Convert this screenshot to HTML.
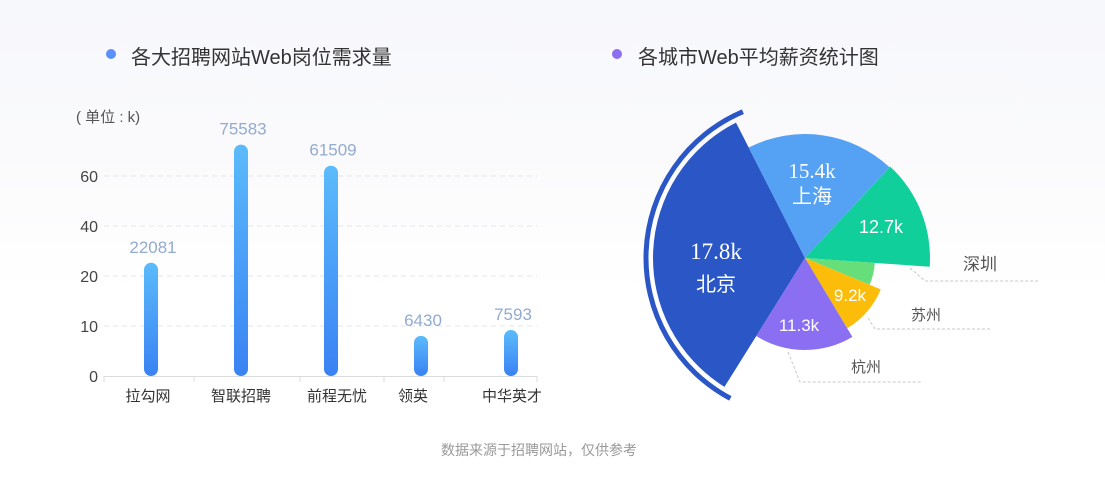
<!DOCTYPE html>
<html><head><meta charset="utf-8">
<style>
html,body{margin:0;padding:0}
body{width:1105px;height:486px;overflow:hidden;background:linear-gradient(#f7f8fc 0px,#fafafc 150px,#ffffff 290px);font-family:"Liberation Sans","Noto Sans CJK SC",sans-serif;position:relative}
.t{position:absolute;font-size:20px;color:#333;top:41px}
.dot{position:absolute;width:10px;height:10px;border-radius:50%;top:49px}
</style></head><body>
<div class="dot" style="left:106px;background:#5b8ff9"></div>
<div class="t" style="left:131px">各大招聘网站Web岗位需求量</div>
<div class="dot" style="left:612px;background:#8b6ff0"></div>
<div class="t" style="left:638px">各城市Web平均薪资统计图</div>
<svg id="chart" width="1105" height="486" style="position:absolute;left:0;top:0">
<defs><linearGradient id="bg" x1="0" y1="0" x2="0" y2="1"><stop offset="0" stop-color="#5bbbfb"/><stop offset="1" stop-color="#3a82f4"/></linearGradient></defs>
<text x="76" y="122" font-size="15" fill="#555">( 单位 : k)</text>
<g id="bars"></g><g id="pie"></g>
<text x="539" y="455" font-size="14" fill="#999" text-anchor="middle">数据来源于招聘网站，仅供参考</text>
</svg>
<script>
const categories=["拉勾网","智联招聘","前程无忧","领英","中华英才"];
const demand=[22081,75583,61509,6430,7593];
const yTicks=[0,10,20,40,60];
const cities=["北京","上海","深圳","","苏州","杭州"];
const salaries=[17.8,15.4,12.7,0,9.2,11.3];
const NS="http://www.w3.org/2000/svg";
function mk(tag,attrs,parent,txt){const e=document.createElementNS(NS,tag);for(const k in attrs)e.setAttribute(k,attrs[k]);if(txt!==undefined)e.textContent=txt;parent.appendChild(e);return e;}
// piecewise axis (ticks evenly spaced)
const domainPts=[0,10,20,40,60,80],rangePts=[376,326,276,226,176,146];
function y(v){for(let i=0;i<domainPts.length-1;i++){if(v<=domainPts[i+1]||i==domainPts.length-2){const a=domainPts[i],b=domainPts[i+1];return rangePts[i]+(v-a)/(b-a)*(rangePts[i+1]-rangePts[i]);}}}
function x(i){return 151+90*i;}
const gb=document.getElementById('bars');
yTicks.forEach(t=>{
 if(t>0){const l=mk('line',{x1:104,x2:537,y1:y(t),y2:y(t),stroke:'#e3e6ee','stroke-dasharray':'5,4'},gb);}
 const tx=mk('text',{x:98,y:y(t)+6,'font-size':16,fill:'#444','text-anchor':'end'},gb,String(t));
 
});
const ax=mk('line',{x1:104,x2:537,y1:376.5,y2:376.5,stroke:'#dcdcdc'},gb);

[104,194,300,384,444,537].forEach(px=>{const tk=mk('line',{x1:px,x2:px,y1:376,y2:382,stroke:'#dcdcdc'},gb);});
categories.forEach((c,i)=>{
 const v=demand[i]/1000,top=y(v)-8,cx=x(i);
 const r=mk('rect',{x:cx-7,y:top,width:14,height:376-top,rx:7,fill:'url(#bg)'},gb);
 
 const vl=mk('text',{x:cx+2,y:top-10,'font-size':17,fill:'#92abd0','text-anchor':'middle'},gb,String(demand[i]));
 
 const cl=mk('text',{x:cx-3+(i==1?3:i==2?9:i==3?-5:i==4?4:0),y:401,'font-size':15,fill:'#333','text-anchor':'middle'},gb,c);
 
});
// rose pie
const cx0=805,cy0=258;
const angles=[[122,243],[243,313],[313,364],[364,382.5],[382.5,419],[419,482]];
const radii=[152,124,125,70,82,92];
const colors=["#2a56c6","#55a2f5","#10cf9b","#66df7a","#fbbd0a","#8a6ff2"];
const gp=document.getElementById('pie');
function pt(a,r){const t=a*Math.PI/180;return [cx0+r*Math.cos(t),cy0+r*Math.sin(t)];}
function sector(a0,a1,r){const p0=pt(a0,r),p1=pt(a1,r);return `M${cx0},${cy0}L${p0[0]},${p0[1]}A${r},${r} 0 ${a1-a0>180?1:0} 1 ${p1[0]},${p1[1]}Z`;}
salaries.forEach((s,i)=>{
 const p=mk('path',{d:sector(angles[i][0],angles[i][1],radii[i]),fill:colors[i]},gp);
 
});
{const a0=118,a1=247,r=159,p0=pt(a0,r),p1=pt(a1,r);
 const ring=mk('path',{d:`M${p0[0]},${p0[1]}A${r},${r} 0 0 1 ${p1[0]},${p1[1]}`,fill:'none',stroke:'#2a56c6','stroke-width':5},gp);
 }
function lbl(txt,px,py,size,fam,name){const t=mk('text',{x:px,y:py,'font-size':size,fill:'#fff','text-anchor':'middle','font-family':fam},gp,txt);}
const serif='"Liberation Serif","Noto Serif CJK SC",serif';
lbl(salaries[0].toFixed(1)+'k',716,259,23,serif,'slice-value');
lbl(cities[0],716,291,20,'"Liberation Sans","Noto Sans CJK SC",sans-serif','slice-name');
lbl(salaries[1].toFixed(1)+'k',812,178,21,serif,'slice-value');
lbl(cities[1],812,203,20,'"Liberation Sans","Noto Sans CJK SC",sans-serif','slice-name');
lbl(salaries[2].toFixed(1)+'k',881,233,18,'"Liberation Sans",sans-serif','slice-value');
lbl(salaries[4].toFixed(1)+'k',850,301,17,'"Liberation Sans",sans-serif','slice-value');
lbl(salaries[5].toFixed(1)+'k',799,331,17,'"Liberation Sans",sans-serif','slice-value');
const leaders=[[2,"910,268 925,281 1038,281",980,270,17],[4,"868,318 875,329 992,329",926,320,15],[5,"788,352 800,382 922,382",866,372,15]];
leaders.forEach(L=>{
 const pl=mk('polyline',{points:L[1],fill:'none',stroke:'#c8c8c8','stroke-dasharray':'3,2'},gp);
 
 const t=mk('text',{x:L[2],y:L[3],'font-size':L[4],fill:'#555','text-anchor':'middle'},gp,cities[L[0]]);
 
});
</script>
</body></html>
